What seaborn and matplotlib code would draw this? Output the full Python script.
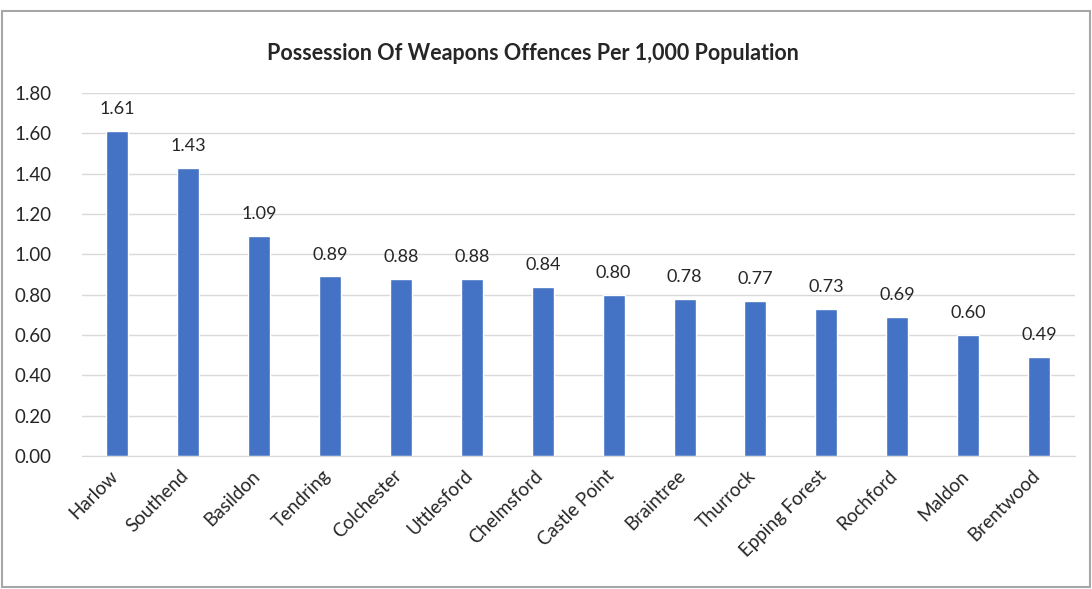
import matplotlib
matplotlib.use("Agg")
import matplotlib.pyplot as plt
import matplotlib.transforms as mtransforms
import seaborn as sns
from matplotlib.patches import Rectangle

districts = ["Harlow", "Southend", "Basildon", "Tendring", "Colchester", "Uttlesford",
             "Chelmsford", "Castle Point", "Braintree", "Thurrock", "Epping Forest",
             "Rochford", "Maldon", "Brentwood"]
rates = [1.61, 1.43, 1.09, 0.89, 0.88, 0.88, 0.84, 0.80, 0.78, 0.77, 0.73, 0.69, 0.60, 0.49]
yticks = [0.0, 0.2, 0.4, 0.6, 0.8, 1.0, 1.2, 1.4, 1.6, 1.8]

sns.set_style("white")
plt.rcParams['font.family'] = ['Lato', 'DejaVu Sans']

fig = plt.figure(figsize=(10.92, 5.89), dpi=100)
ax = fig.add_axes([0.075, 0.226, 0.909, 0.616])

sns.barplot(x=districts, y=rates, color="#4472C4", width=0.31, saturation=1, ax=ax)

ax.set_ylim(0, 1.8)
ax.set_yticks(yticks)
ax.set_yticklabels([f"{v:.2f}" for v in yticks], fontsize=13.5)
ax.yaxis.grid(True, color="#d9d9d9", linewidth=1)
ax.set_axisbelow(True)
ax.set_xlim(-0.5, len(districts) - 0.5)
for s in ["top", "right", "left"]:
    ax.spines[s].set_visible(False)
ax.spines["bottom"].set_color("#d9d9d9")
ax.tick_params(axis="x", length=0, pad=8)
ax.tick_params(axis="y", length=0, pad=22)

# rotated district names, nudged a bit left like the original
ax.set_xticks(range(len(districts)), districts, rotation=45, ha="right",
              rotation_mode="anchor", fontsize=13.5)
shift = mtransforms.ScaledTranslation(-6 / 72, 0, fig.dpi_scale_trans)
for lbl in ax.get_xticklabels():
    lbl.set_transform(lbl.get_transform() + shift)

ax.bar_label(ax.containers[0], fmt="%.2f", padding=10, fontsize=13)

fig.text(0.488, 0.91, "Possession Of Weapons Offences Per 1,000 Population",
         ha="center", va="center", fontsize=15.5, fontweight="bold")

# grey frame round the whole chart
fig.patches.append(Rectangle((0.002, 0.004), 0.996, 0.978, transform=fig.transFigure,
                             fill=False, edgecolor="#a6a6a6", linewidth=1.5))

plt.savefig("out.png", dpi=100)
